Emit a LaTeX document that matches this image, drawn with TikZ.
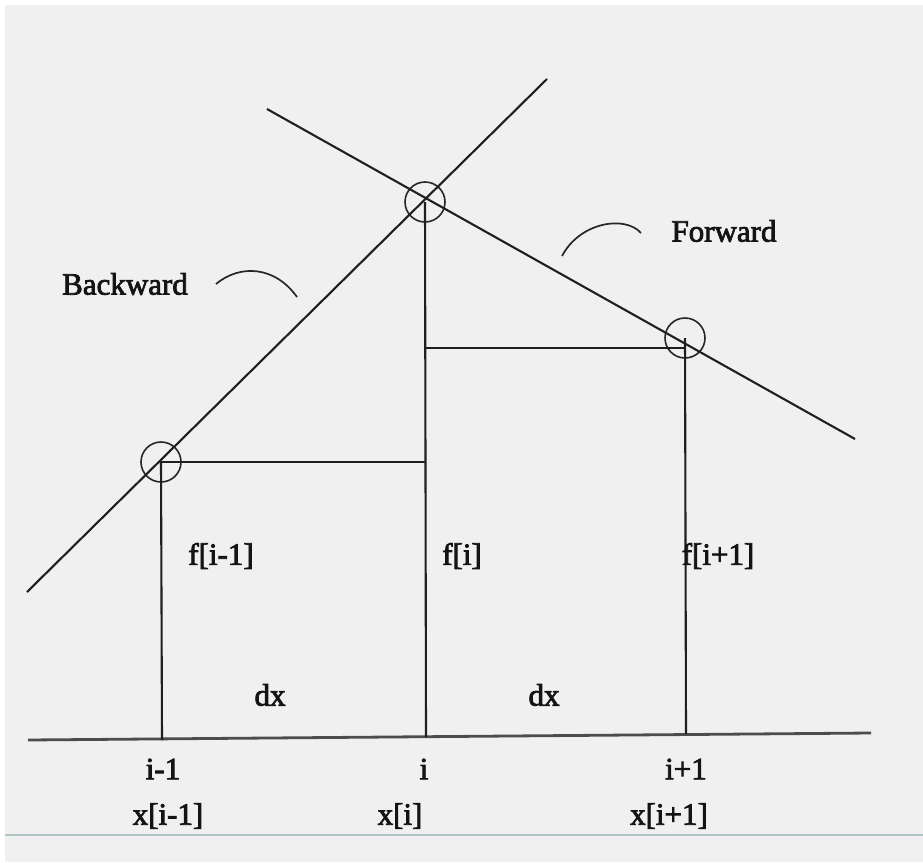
\documentclass[tikz,border=0pt]{standalone}
\usepackage{fontspec}
\setmainfont{Liberation Serif}
\newfontfamily\heavyserif[FakeBold=2.5]{Liberation Serif}
\begin{document}
\begin{tikzpicture}[x=1pt,y=-1pt,
  ln/.style={draw=black!88,line width=2.1pt},
  ax/.style={draw=black!70,line width=2.8pt},
  ring/.style={circle,draw=black!85,line width=1.6pt,minimum size=40pt,inner sep=0pt},
  lbl/.style={text=black!92,inner sep=0pt,font=\heavyserif\fontsize{31}{36}\selectfont},
  arcln/.style={draw=black!85,line width=1.7pt}]
\useasboundingbox (0,0) rectangle (923,862);
\fill[white] (0,0) rectangle (923,862);
\fill[black!6] (5,5) rectangle (923,862);
\draw[draw={rgb,255:red,176;green,196;blue,200},line width=2pt] (5,835) -- (923,835);
% axis
\coordinate (axL) at (28,740);
\coordinate (axR) at (871,733);
\draw[ax] (axL) -- (axR);
% points
\node[ring] (c1) at (161,462) {};
\node[ring] (c2) at (425,202) {};
\node[ring] (c3) at (685,338) {};
\coordinate (f1) at (162,740);
\coordinate (f2) at (426,737);
\coordinate (f3) at (686,734);
\coordinate (h1) at (426,462);
\coordinate (h2) at (426,348);
% secant lines
\coordinate (bA) at (27,592);
\coordinate (bB) at (547,79);
\coordinate (fA) at (267,109);
\coordinate (fB) at (855,439);
\draw[ln] (bA) -- (bB);
\draw[ln] (fA) -- (fB);
% verticals and horizontals
\draw[ln] (c1.center) -- (f1);
\draw[ln] (c2.center) -- (f2);
\draw[ln] (c3.center) -- (f3);
\draw[ln] (c1.center) -- (h1);
\draw[ln] (h2) -- (685,348);
% arcs
\coordinate (a1s) at (216,284);
\coordinate (a1e) at (297,297);
\draw[arcln] (a1s) .. controls (240,264) and (275,266) .. (a1e);
\coordinate (a2s) at (562,256);
\coordinate (a2e) at (641,233);
\draw[arcln] (a2s) .. controls (580,222) and (625,215) .. (a2e);
% labels
\node[lbl] (tb) at (125,284) {Backward};
\node[lbl] (tf) at (724,231) {Forward};
\node[lbl] (t1) at (221,556) {f[i-1]};
\node[lbl] (t2) at (462,556) {f[i]};
\node[lbl] (t3) at (718,556) {f[i+1]};
\node[lbl] (d1) at (270,695) {dx};
\node[lbl] (d2) at (544,695) {dx};
\node[lbl] (i1) at (163,769) {i-1};
\node[lbl] (i2) at (424,769) {i};
\node[lbl] (i3) at (686,769) {i+1};
\node[lbl] (x1) at (168,816) {x[i-1]};
\node[lbl] (x2) at (400,816) {x[i]};
\node[lbl] (x3) at (669,816) {x[i+1]};
\end{tikzpicture}
\end{document}
